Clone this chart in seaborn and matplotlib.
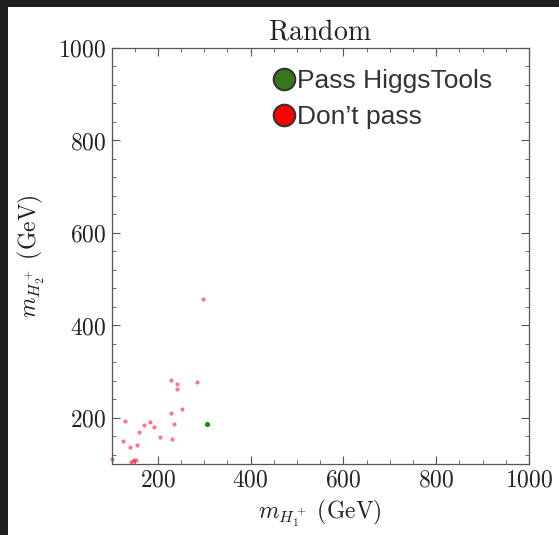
import numpy as np
import pandas as pd
import seaborn as sns
import matplotlib
matplotlib.use("Agg")
import matplotlib.pyplot as plt
from matplotlib.ticker import MultipleLocator, FuncFormatter
from matplotlib.lines import Line2D
from matplotlib.patches import Rectangle

# data (GeV)
fail_x = [228, 241, 242, 284, 298, 228, 253, 129, 183, 171, 191, 235, 159, 204,
          230, 124, 155, 140, 101, 143, 149, 153, 147]
fail_y = [282, 274, 262, 278, 456, 211, 218, 194, 191, 185, 181, 186, 170, 159,
          153, 150, 142, 137, 110, 104, 109, 109, 106]
pass_x = [305]
pass_y = [186]
legend_labels = ["Pass HiggsTools", "Don\u2019t pass"]

df = pd.DataFrame({
    "mH1": fail_x + pass_x,
    "mH2": fail_y + pass_y,
    "status": ["fail"] * len(fail_x) + ["pass"] * len(pass_x),
})

sns.set_style("ticks")
plt.rcParams["mathtext.fontset"] = "cm"
plt.rcParams["font.family"] = ["DejaVu Serif"]

fig = plt.figure(figsize=(5.59, 5.35), dpi=100)
fig.patch.set_facecolor("#202020")
fig.patches.append(Rectangle((8 / 559, 0), 1, (535 - 7) / 535, transform=fig.transFigure,
                             facecolor="white", edgecolor="none", zorder=-10))

ax = fig.add_axes([111.5 / 559, 71 / 535, (529 - 111.5) / 559, (464 - 47.7) / 535])

sns.scatterplot(data=df[df.status == "fail"], x="mH1", y="mH2", color="#ff3a55",
                alpha=0.7, s=9, linewidth=0, ax=ax, legend=False, clip_on=False)
sns.scatterplot(data=df[df.status == "pass"], x="mH1", y="mH2", color="#1a8a1a",
                s=14, linewidth=0, ax=ax, legend=False)

ax.set_xlim(100, 1000)
ax.set_ylim(100, 1000)
ax.xaxis.set_major_locator(MultipleLocator(200))
ax.xaxis.set_minor_locator(MultipleLocator(50))
ax.yaxis.set_major_locator(MultipleLocator(200))
ax.yaxis.set_minor_locator(MultipleLocator(40))
fmt = FuncFormatter(lambda v, p: r"$%d$" % int(round(v)))
ax.xaxis.set_major_formatter(fmt)
ax.yaxis.set_major_formatter(fmt)
ax.tick_params(which="both", direction="in", top=True, right=True, colors="#555555",
               labelcolor="#222222", labelsize=17)
ax.tick_params(which="major", length=6, width=0.8)
ax.tick_params(which="minor", length=3, width=0.6)
for sp in ax.spines.values():
    sp.set_color("#555555")
    sp.set_linewidth(0.9)

ax.set_xlabel(r"$m_{H_1^+}\ (\mathrm{GeV})$", fontsize=17, color="#222222", labelpad=4)
ax.set_ylabel(r"$m_{H_2^+}\ (\mathrm{GeV})$", fontsize=17, color="#222222", labelpad=8)
ax.set_title(r"$\mathrm{Random}$", fontsize=20, color="#222222", pad=6)

handles = [
    Line2D([], [], marker="o", linestyle="none", markersize=15.5, markerfacecolor="#38761d",
           markeredgecolor="#333333", markeredgewidth=1.5),
    Line2D([], [], marker="o", linestyle="none", markersize=15.5, markerfacecolor="#ff0000",
           markeredgecolor="#333333", markeredgewidth=1.5),
]
leg = fig.legend(handles, legend_labels, loc="upper left",
                 bbox_to_anchor=(271 / 559, 1 - 69 / 535), frameon=False,
                 prop={"family": "Liberation Sans", "size": 19},
                 handletextpad=0.0, handlelength=1.0, labelspacing=0.45,
                 borderpad=0, borderaxespad=0)
for t in leg.get_texts():
    t.set_color("#333333")

fig.savefig("out.png", dpi=100)
